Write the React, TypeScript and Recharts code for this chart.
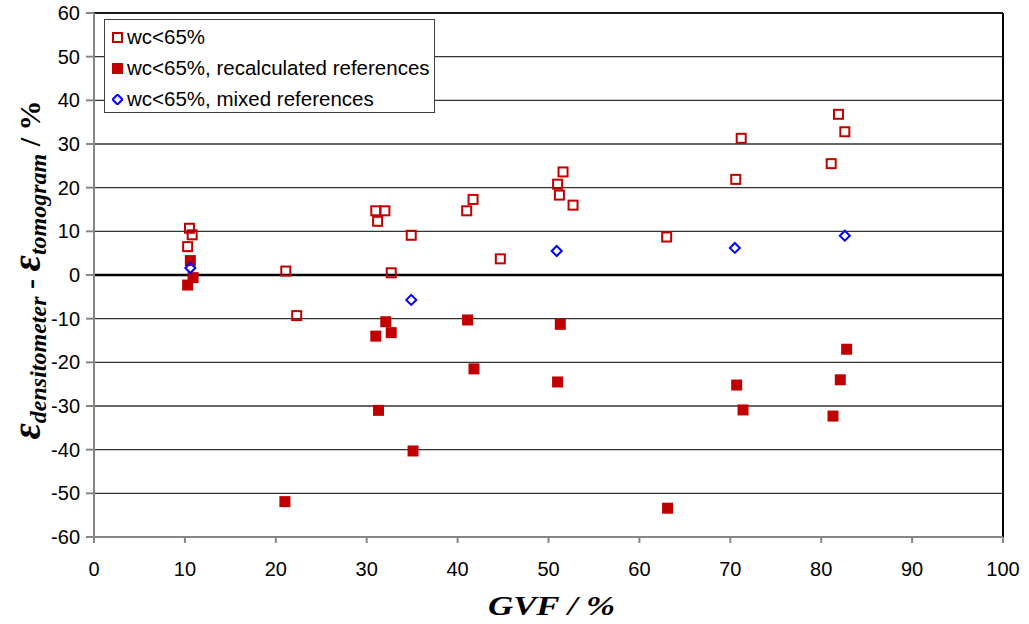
import React from 'react';
import {
  ScatterChart,
  Scatter,
  XAxis,
  YAxis,
  CartesianGrid,
  ReferenceLine,
  Legend,
} from 'recharts';

// GVF (%) vs. void fraction difference (%), one list per series
const openSquares: [number, number][] = [
  [10.5, 10.7], [10.8, 9.2], [10.3, 6.5], [21.1, 0.9], [22.3, -9.3],
  [31.0, 14.7], [32.0, 14.7], [31.2, 12.3], [34.9, 9.1], [32.7, 0.5],
  [41.0, 14.7], [41.7, 17.3], [44.7, 3.7], [51.6, 23.6], [51.0, 20.8],
  [51.2, 18.3], [52.7, 16.0], [63.0, 8.7], [70.6, 21.9], [71.2, 31.3],
  [81.1, 25.5], [81.9, 36.8], [82.6, 32.8],
];

const filledSquares: [number, number][] = [
  [10.6, 3.3], [10.9, -0.6], [10.3, -2.3], [21.0, -51.9], [31.0, -14.0],
  [32.1, -10.7], [32.7, -13.2], [31.3, -31.0], [35.1, -40.3], [41.1, -10.3],
  [41.8, -21.5], [51.3, -11.3], [51.0, -24.5], [63.1, -53.4], [70.7, -25.2],
  [71.4, -30.9], [81.3, -32.3], [82.1, -24.0], [82.8, -17.0],
];

const diamonds: [number, number][] = [
  [10.6, 1.6], [34.9, -5.7], [50.9, 5.5], [70.5, 6.2], [82.6, 9.0],
];

const seriesNames = [
  'wc<65%',
  'wc<65%, recalculated references',
  'wc<65%, mixed references',
];

const xTicks = [0, 10, 20, 30, 40, 50, 60, 70, 80, 90, 100];
const yTicks = [-60, -50, -40, -30, -20, -10, 0, 10, 20, 30, 40, 50, 60];

const RED = '#C00000';
const BLUE = '#0000FF';
const SANS = '"Liberation Sans", Arial, sans-serif';
const SERIF = '"Liberation Serif", "Times New Roman", serif';

const toPoints = (rows: [number, number][]) => rows.map(([x, y]) => ({ x, y }));

const OpenSquare = (p: any) => (
  <rect x={p.cx - 4.5} y={p.cy - 4.5} width={9} height={9} fill="none" stroke={RED} strokeWidth={2} />
);

const FilledSquare = (p: any) => (
  <rect x={p.cx - 5.5} y={p.cy - 5.5} width={11} height={11} fill={RED} />
);

const Diamond = (p: any) => (
  <path
    d={`M${p.cx},${p.cy - 5} L${p.cx + 5},${p.cy} L${p.cx},${p.cy + 5} L${p.cx - 5},${p.cy} Z`}
    fill="none"
    stroke={BLUE}
    strokeWidth={2}
  />
);

const markers = [
  <rect key="a" x={1} y={1} width={9} height={9} fill="none" stroke={RED} strokeWidth={2} />,
  <rect key="b" x={0} y={0} width={11} height={11} fill={RED} />,
  <path key="c" d="M5.5,0.5 L10.5,5.5 L5.5,10.5 L0.5,5.5 Z" fill="none" stroke={BLUE} strokeWidth={2} />,
];

const LegendBox = () => (
  <div
    style={{
      position: 'relative',
      width: 329,
      height: 92,
      border: '1px solid #404040',
      background: '#fff',
      fontFamily: SANS,
      fontSize: 20.5,
      color: '#000',
    }}
  >
    {seriesNames.map((name, i) => (
      <div key={name} style={{ position: 'absolute', left: 7, top: 4 + i * 31, height: 26, display: 'flex', alignItems: 'center' }}>
        <svg width={11} height={11} style={{ marginRight: 4 }}>{markers[i]}</svg>
        <span style={{ whiteSpace: 'nowrap' }}>{name}</span>
      </div>
    ))}
  </div>
);

const YTitle = () => (
  <text
    x={40}
    y={270}
    transform="rotate(-90, 40, 270)"
    textAnchor="middle"
    fontFamily={SERIF}
    fontWeight="bold"
    fontStyle="italic"
    fill="#000"
  >
    <tspan fontSize={40}>ε</tspan>
    <tspan fontSize={24} dy={6}>densitometer</tspan>
    <tspan fontSize={30} dy={-6} fontStyle="normal"> - </tspan>
    <tspan fontSize={40}>ε</tspan>
    <tspan fontSize={24} dy={6}>tomogram</tspan>
    <tspan fontSize={30} dy={-6} fontStyle="normal"> / %</tspan>
  </text>
);

const XTitle = () => (
  <text
    x={488}
    y={615}
    textLength={127}
    lengthAdjust="spacingAndGlyphs"
    fontFamily={SERIF}
    fontWeight="bold"
    fontStyle="italic"
    fontSize={28}
    fill="#000"
  >
    GVF / %
  </text>
);

export default function App() {
  return (
    <div style={{ position: 'absolute', left: 0, top: 0, background: '#fff' }}>
      <ScatterChart width={1029} height={624} margin={{ top: 13, right: 26, bottom: 0, left: 0 }}>
        <CartesianGrid horizontal vertical={false} stroke="#333" strokeWidth={1.4} />
        <XAxis
          type="number"
          dataKey="x"
          domain={[0, 100]}
          ticks={xTicks}
          interval={0}
          height={87}
          stroke="#868686"
          strokeWidth={2}
          tickSize={6}
          tickMargin={19}
          tick={{ fill: '#000', fontSize: 20, fontFamily: SANS }}
          label={<XTitle />}
        />
        <YAxis
          type="number"
          dataKey="y"
          domain={[-60, 60]}
          ticks={yTicks}
          interval={0}
          width={94}
          stroke="#868686"
          strokeWidth={2}
          tickSize={8}
          tickMargin={6}
          tick={{ fill: '#000', fontSize: 20, fontFamily: SANS }}
          label={<YTitle />}
        />
        <ReferenceLine y={0} stroke="#000" strokeWidth={2.5} />
        <ReferenceLine y={60} stroke="#000" strokeWidth={1.5} />
        <ReferenceLine x={100} stroke="#000" strokeWidth={2} />
        <Scatter name={seriesNames[0]} data={toPoints(openSquares)} shape={OpenSquare} isAnimationActive={false} />
        <Scatter name={seriesNames[1]} data={toPoints(filledSquares)} shape={FilledSquare} isAnimationActive={false} />
        <Scatter name={seriesNames[2]} data={toPoints(diamonds)} shape={Diamond} isAnimationActive={false} />
        <Legend
          layout="horizontal"
          verticalAlign="middle"
          align="center"
          content={<LegendBox />}
          wrapperStyle={{ left: 104, top: 19, width: 331, height: 94 }}
        />
      </ScatterChart>
    </div>
  );
}
